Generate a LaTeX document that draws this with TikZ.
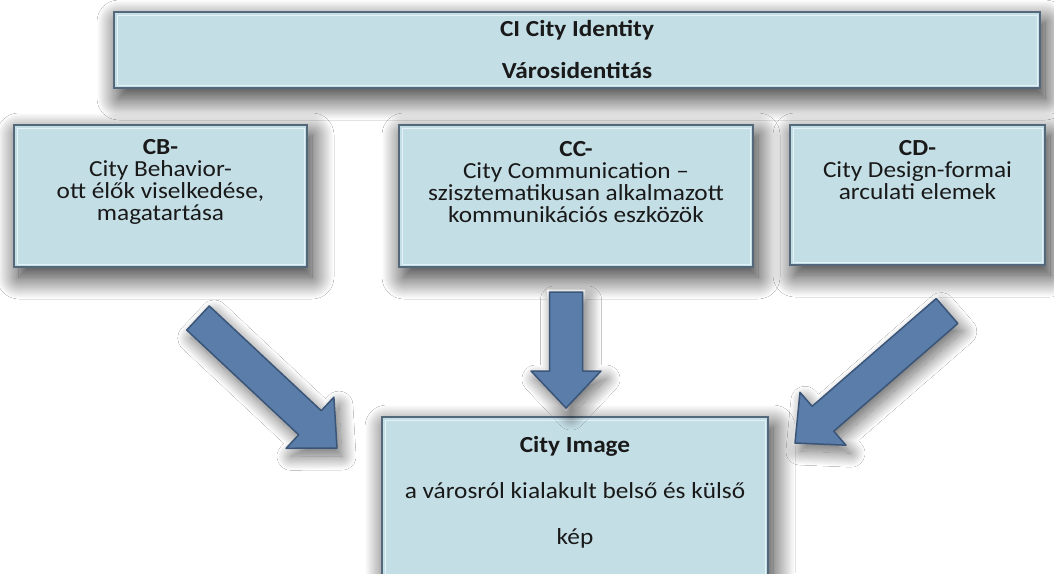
\documentclass[tikz,border=0pt]{standalone}
\usepackage{fontspec}
\setmainfont{Carlito}[FakeStretch=1.1]
\usetikzlibrary{shadows.blur,calc}
\definecolor{boxfill}{RGB}{196,222,230}
\definecolor{boxline}{RGB}{84,104,124}
\definecolor{innerline}{RGB}{228,242,247}
\definecolor{arrfill}{RGB}{90,125,170}
\definecolor{arrline}{RGB}{58,85,120}
\definecolor{txt}{RGB}{25,25,25}
\tikzset{
  cbox/.style={draw=boxline, line width=2pt, fill=boxfill, inner sep=0pt,
    blur shadow={shadow xshift=5pt, shadow yshift=-10pt, shadow blur radius=22pt,
      shadow blur steps=40, shadow opacity=85}},
  inset/.style={draw=innerline, line width=1pt},
  ctext/.style={text=txt, align=center, inner sep=0pt, font=\fontsize{23}{22}\selectfont},
  arrowshape/.style={fill=arrfill, draw=arrline, line width=1.5pt, line join=round,
    preaction={draw=white, line width=5pt},
    blur shadow={shadow xshift=5pt, shadow yshift=-8pt, shadow blur radius=14pt,
      shadow blur steps=30, shadow opacity=60}}
}
\newcommand{\blockarrow}[2]{%
  \path[arrowshape] let \p1=(#1), \p2=(#2),
    \n1={atan2(\y2-\y1,\x2-\x1)}, \n2={veclen(\x2-\x1,\y2-\y1)-37} in
    ($(\p1)+(\n1+90:16.5pt)$) --
    ($(\p1)+(\n1:\n2*1pt)+(\n1+90:16.5pt)$) --
    ($(\p1)+(\n1:\n2*1pt)+(\n1+90:35pt)$) --
    (\p2) --
    ($(\p1)+(\n1:\n2*1pt)+(\n1-90:35pt)$) --
    ($(\p1)+(\n1:\n2*1pt)+(\n1-90:16.5pt)$) --
    ($(\p1)+(\n1-90:16.5pt)$) -- cycle;}
\begin{document}
\begin{tikzpicture}[x=1pt,y=-1pt]
\clip (0,0) rectangle (1054,573);
\fill[white] (0,0) rectangle (1054,573);

% boxes
\node[cbox, minimum width=926pt, minimum height=76pt] (ci) at (577,50) {};
\node[cbox, minimum width=293pt, minimum height=142pt] (cb) at (160.5,196) {};
\node[cbox, minimum width=354pt, minimum height=142pt] (cc) at (576,196) {};
\node[cbox, minimum width=255pt, minimum height=140pt] (cd) at (917.5,195) {};
\node[cbox, minimum width=386pt, minimum height=180pt] (im) at (575,507) {};
\foreach \n in {ci,cb,cc,cd,im}
  \draw[inset] ([shift={(4,4)}]\n.north west) rectangle ([shift={(-4,-4)}]\n.south east);

% texts
\node[ctext] (cit) at (577,49) {\textbf{CI City Identity}\\[20pt]\textbf{Városidentitás}};
\node[ctext] (cbt) at (160.5,182) {\textbf{CB-}\\City Behavior-\\ott élők viselkedése,\\magatartása};
\node[ctext] (cct) at (576,182) {\textbf{CC-}\\City Communication –\\szisztematikusan alkalmazott\\kommunikációs eszközök};
\node[ctext] (cdt) at (917.5,170) {\textbf{CD-}\\City Design-formai\\arculati elemek};
\node[ctext] (imt) at (575,492) {\textbf{City Image}\\[24pt]a városról kialakult belső és külső\\[24pt]kép};

% arrows
\coordinate (a1s) at (198,318);
\coordinate (a1e) at (337,448);
\coordinate (a2s) at (566,292);
\coordinate (a2e) at (566,408);
\coordinate (a3s) at (947,311);
\coordinate (a3e) at (795,443);
\blockarrow{a1s}{a1e}
\blockarrow{a2s}{a2e}
\blockarrow{a3s}{a3e}
\end{tikzpicture}
\end{document}
